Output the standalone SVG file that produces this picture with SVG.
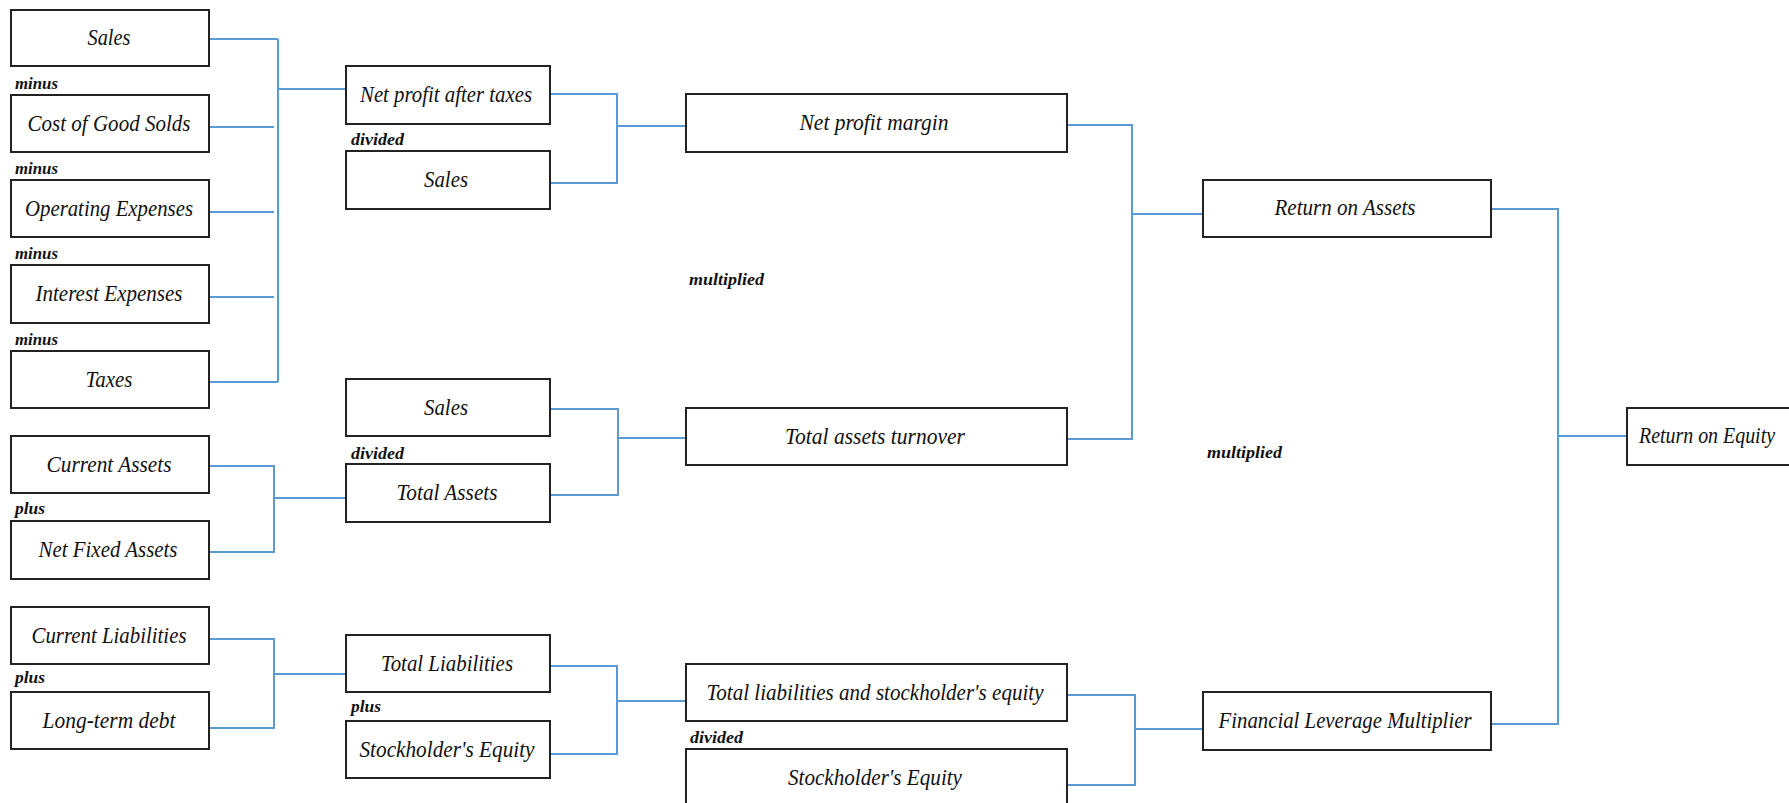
<svg xmlns="http://www.w3.org/2000/svg" width="1789" height="803" viewBox="0 0 1789 803">
<style>
.box{fill:#fff;stroke:#222;stroke-width:2}
.t{font-family:"Liberation Serif",serif;font-style:italic;font-size:24px;fill:#111;text-anchor:middle}
.l{font-family:"Liberation Serif",serif;font-style:italic;font-weight:bold;font-size:16px;fill:#111}
.c{fill:none;stroke:#5B9BD5;stroke-width:2}
</style>
<rect width="1789" height="803" fill="#fff"/>
<g id="connectors">
<path class="c" d="M209 39H278M278 39V382M209 127H274M209 212H274M209 297H274M209 382H278M278 89H346"/>
<path class="c" d="M209 466H274V552H209M274 498H345"/>
<path class="c" d="M209 639H274V728H209M274 674H345"/>
<path class="c" d="M550 94H617V183H550M617 126H686"/>
<path class="c" d="M550 409H618V495H550M618 438H686"/>
<path class="c" d="M550 666H617V754H550M617 701H686"/>
<path class="c" d="M1067 125H1132V439H1067M1132 214H1203"/>
<path class="c" d="M1067 695H1135V785H1067M1135 729H1203"/>
<path class="c" d="M1491 209H1558V724H1491M1558 436H1627"/>
</g>
<g id="sales1"><rect class="box" x="11" y="10" width="198" height="56"/><text class="t" x="109" y="45" textLength="43" lengthAdjust="spacingAndGlyphs">Sales</text></g>
<g id="cogs"><rect class="box" x="11" y="95" width="198" height="57"/><text class="t" x="109" y="131" textLength="163" lengthAdjust="spacingAndGlyphs">Cost of Good Solds</text></g>
<g id="opex"><rect class="box" x="11" y="180" width="198" height="57"/><text class="t" x="109" y="216" textLength="168" lengthAdjust="spacingAndGlyphs">Operating Expenses</text></g>
<g id="intexp"><rect class="box" x="11" y="265" width="198" height="58"/><text class="t" x="109" y="301" textLength="147" lengthAdjust="spacingAndGlyphs">Interest Expenses</text></g>
<g id="taxes"><rect class="box" x="11" y="351" width="198" height="57"/><text class="t" x="109" y="387" textLength="47" lengthAdjust="spacingAndGlyphs">Taxes</text></g>
<g id="curassets"><rect class="box" x="11" y="436" width="198" height="57"/><text class="t" x="109" y="472" textLength="125" lengthAdjust="spacingAndGlyphs">Current Assets</text></g>
<g id="netfixed"><rect class="box" x="11" y="521" width="198" height="58"/><text class="t" x="108" y="557" textLength="139" lengthAdjust="spacingAndGlyphs">Net Fixed Assets</text></g>
<g id="curliab"><rect class="box" x="11" y="607" width="198" height="57"/><text class="t" x="109" y="643" textLength="155" lengthAdjust="spacingAndGlyphs">Current Liabilities</text></g>
<g id="ltdebt"><rect class="box" x="11" y="692" width="198" height="57"/><text class="t" x="109" y="728" textLength="133" lengthAdjust="spacingAndGlyphs">Long-term debt</text></g>
<g id="labels-left">
<text class="l" x="15" y="89" textLength="43" lengthAdjust="spacingAndGlyphs">minus</text>
<text class="l" x="15" y="174" textLength="43" lengthAdjust="spacingAndGlyphs">minus</text>
<text class="l" x="15" y="259" textLength="43" lengthAdjust="spacingAndGlyphs">minus</text>
<text class="l" x="15" y="345" textLength="43" lengthAdjust="spacingAndGlyphs">minus</text>
<text class="l" x="15" y="514" textLength="30" lengthAdjust="spacingAndGlyphs">plus</text>
<text class="l" x="15" y="683" textLength="30" lengthAdjust="spacingAndGlyphs">plus</text>
</g>
<g id="npat"><rect class="box" x="346" y="66" width="204" height="58"/><text class="t" x="446" y="102" textLength="172" lengthAdjust="spacingAndGlyphs">Net profit after taxes</text></g>
<g id="sales2"><rect class="box" x="346" y="151" width="204" height="58"/><text class="t" x="446" y="187" textLength="44" lengthAdjust="spacingAndGlyphs">Sales</text></g>
<g id="sales3"><rect class="box" x="346" y="379" width="204" height="57"/><text class="t" x="446" y="415" textLength="44" lengthAdjust="spacingAndGlyphs">Sales</text></g>
<g id="totassets"><rect class="box" x="346" y="464" width="204" height="58"/><text class="t" x="447" y="500" textLength="101" lengthAdjust="spacingAndGlyphs">Total Assets</text></g>
<g id="totliab"><rect class="box" x="346" y="635" width="204" height="57"/><text class="t" x="447" y="671" textLength="132" lengthAdjust="spacingAndGlyphs">Total Liabilities</text></g>
<g id="se1"><rect class="box" x="346" y="721" width="204" height="57"/><text class="t" x="447" y="757" textLength="175" lengthAdjust="spacingAndGlyphs">Stockholder's Equity</text></g>
<g id="labels-mid">
<text class="l" x="351" y="145" textLength="53" lengthAdjust="spacingAndGlyphs">divided</text>
<text class="l" x="351" y="459" textLength="53" lengthAdjust="spacingAndGlyphs">divided</text>
<text class="l" x="351" y="712" textLength="30" lengthAdjust="spacingAndGlyphs">plus</text>
<text class="l" x="689" y="285" textLength="75" lengthAdjust="spacingAndGlyphs">multiplied</text>
<text class="l" x="690" y="743" textLength="53" lengthAdjust="spacingAndGlyphs">divided</text>
<text class="l" x="1207" y="458" textLength="75" lengthAdjust="spacingAndGlyphs">multiplied</text>
</g>
<g id="npm"><rect class="box" x="686" y="94" width="381" height="58"/><text class="t" x="874" y="130" textLength="149" lengthAdjust="spacingAndGlyphs">Net profit margin</text></g>
<g id="tat"><rect class="box" x="686" y="408" width="381" height="57"/><text class="t" x="875" y="444" textLength="180" lengthAdjust="spacingAndGlyphs">Total assets turnover</text></g>
<g id="tlse"><rect class="box" x="686" y="664" width="381" height="57"/><text class="t" x="875" y="700" textLength="337" lengthAdjust="spacingAndGlyphs">Total liabilities and stockholder's equity</text></g>
<g id="se2"><rect class="box" x="686" y="749" width="381" height="57"/><text class="t" x="875" y="785" textLength="174" lengthAdjust="spacingAndGlyphs">Stockholder's Equity</text></g>
<g id="roa"><rect class="box" x="1203" y="180" width="288" height="57"/><text class="t" x="1345" y="215" textLength="141" lengthAdjust="spacingAndGlyphs">Return on Assets</text></g>
<g id="flm"><rect class="box" x="1203" y="692" width="288" height="58"/><text class="t" x="1345" y="728" textLength="253" lengthAdjust="spacingAndGlyphs">Financial Leverage Multiplier</text></g>
<g id="roe"><rect class="box" x="1627" y="408" width="170" height="57"/><text class="t" transform="translate(1707 443) scale(0.83 1)" x="0" y="0">Return on Equity</text></g>
</svg>
